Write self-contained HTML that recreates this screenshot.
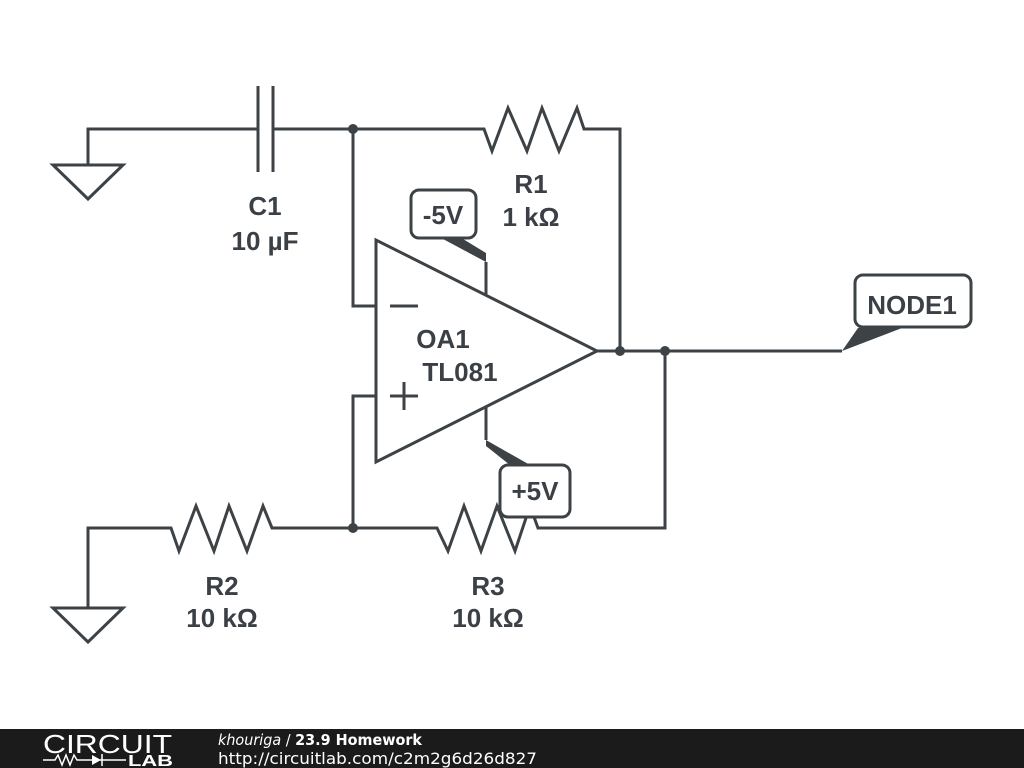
<!DOCTYPE html>
<html><head><meta charset="utf-8"><style>
html,body{margin:0;padding:0;background:#fff;width:1024px;height:768px;overflow:hidden}
svg{display:block}
text{font-family:"Liberation Sans","DejaVu Sans",sans-serif;font-weight:bold;fill:#3a4045}
</style></head><body>
<svg width="1024" height="768" viewBox="0 0 1024 768" xmlns="http://www.w3.org/2000/svg">
<g fill="none" stroke="#3c4246" stroke-width="3" stroke-linejoin="miter">
<polyline points="88,165 88,129 258,129"/>
<polygon points="53,165 123,165 88,199"/>
<line x1="258" y1="86" x2="258" y2="172"/>
<line x1="273" y1="86" x2="273" y2="172"/>
<polyline points="273,129 484,129 492,151 508,108 527,151 542,108 559,151 577,108 584,129 620,129 620,351"/>
<polyline points="353,129 353,306 376,306"/>
<polygon points="376,240 376,462 597,351"/>
<line x1="390" y1="306" x2="418" y2="306"/>
<line x1="390" y1="396" x2="418" y2="396"/>
<line x1="404" y1="382" x2="404" y2="410"/>
<line x1="486" y1="262" x2="486" y2="295"/>
<line x1="486" y1="407" x2="486" y2="440"/>
<polyline points="597,351 842,351"/>
<polyline points="665,351 665,528 538,528 530,506 515,551 497,506 481,551 464,506 448,551 437,528 353,528 353,396 376,396"/>
<polyline points="353,528 272,528 263,506 247,551 229,506 214,551 196,506 179,551 171,528 88,528 88,608"/>
<polygon points="53,608 123,608 88,642"/>
<rect x="411" y="190" width="65" height="48" rx="8" fill="#fff"/>
<rect x="500" y="465" width="70" height="52" rx="8" fill="#fff"/>
<rect x="855" y="275" width="116" height="52" rx="8" fill="#fff"/>
</g>
<g fill="#3c4246">
<polygon points="443,239 463,239 486,253 486,262"/>
<polygon points="486,440 486,446 510,465 530,465"/>
<polygon points="858,328 902,328 842,351"/>
<circle cx="353" cy="129" r="5"/>
<circle cx="620" cy="351" r="5"/>
<circle cx="665" cy="351" r="5"/>
<circle cx="353" cy="528" r="5"/>
</g>
<g font-size="26" text-anchor="middle">
<text x="265" y="215">C1</text>
<text x="265" y="250">10 µF</text>
<text x="531" y="193">R1</text>
<text x="531" y="226">1 kΩ</text>
<text x="443" y="224">-5V</text>
<text x="535" y="500">+5V</text>
<text x="912" y="314">NODE1</text>
<text x="443" y="348">OA1</text>
<text x="460" y="381">TL081</text>
<text x="222" y="595">R2</text>
<text x="222" y="627">10 kΩ</text>
<text x="488" y="595">R3</text>
<text x="488" y="627">10 kΩ</text>
</g>
<rect x="0" y="729" width="1024" height="39" fill="#1b1b1b"/>
<text x="43" y="753" font-size="26" style="font-weight:normal;fill:#fff" textLength="129" lengthAdjust="spacingAndGlyphs">CIRCUIT</text>
<polyline points="43,760 55,760 58,755 62,765 66,755 70,765 74,755 77,760 85,760 126,760" fill="none" stroke="#fff" stroke-width="1.5"/>
<polygon points="92,755 92,765 101,760" fill="#fff"/>
<line x1="102" y1="754" x2="102" y2="766" stroke="#fff" stroke-width="1.5"/>
<text x="128" y="766" font-size="16" style="fill:#fff" textLength="45" lengthAdjust="spacingAndGlyphs">LAB</text>
<text x="218" y="745" font-size="15" style="fill:#fff;font-family:'DejaVu Sans',sans-serif" textLength="204" lengthAdjust="spacingAndGlyphs"><tspan style="font-style:italic;font-weight:normal">khouriga</tspan><tspan style="font-weight:normal"> / </tspan>23.9 Homework</text>
<text x="218" y="764" font-size="16" style="fill:#fff;font-weight:normal;font-family:'DejaVu Sans',sans-serif" textLength="319" lengthAdjust="spacingAndGlyphs">http://circuitlab.com/c2m2g6d26d827</text>
</svg>
</body></html>
